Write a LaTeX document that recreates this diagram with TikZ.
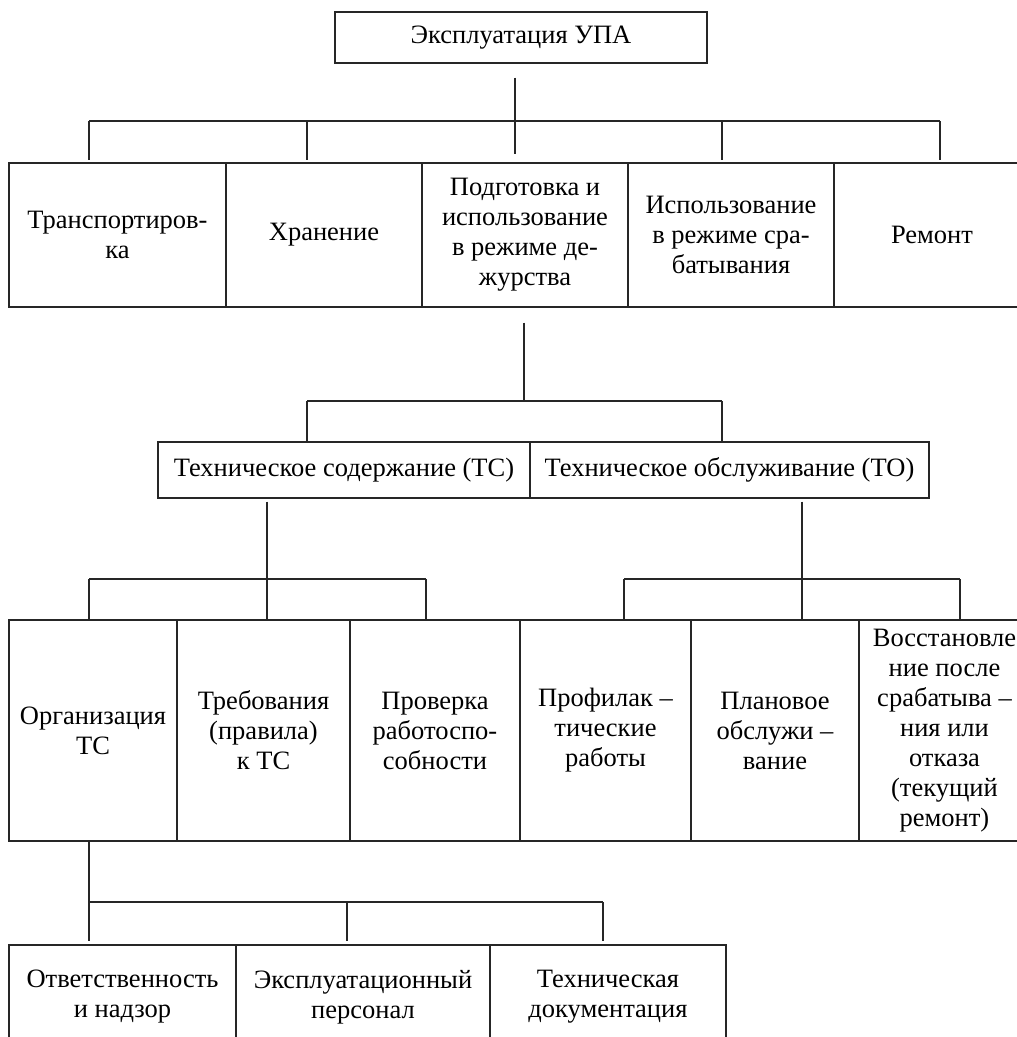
\documentclass[tikz,border=0pt]{standalone}
\usepackage{fontspec}
\setmainfont{Liberation Serif}
\begin{document}
\begin{tikzpicture}[x=1pt,y=-1pt,
  box/.style={draw=black!85, line width=1.2pt, inner sep=0pt, align=center,
    font=\fontsize{26.5}{30}\selectfont},
  conn/.style={draw=black!85, line width=1.2pt}]
\useasboundingbox (0,0) rectangle (1017,1037);
% ---------- root
\node[box, minimum width=372pt, minimum height=51pt] (root) at (521,37.5) {Эксплуатация УПА};
% ---------- row 1
\tikzset{r1/.style={box, minimum height=144pt}}
\node[r1, minimum width=217pt] (a1) at (117.5,235) {Транспортиров-\\ка};
\node[r1, minimum width=196pt] (a2) at (324,235) {Хранение};
\node[r1, minimum width=206pt] (a3) at (525,235) {Подготовка и\\использование\\в режиме де-\\журства};
\node[r1, minimum width=206pt] (a4) at (731,235) {Использование\\в режиме сра-\\батывания};
\node[r1, minimum width=196pt] (a5) at (932,235) {Ремонт};
% ---------- row 2
\tikzset{r2/.style={box, minimum height=56pt}}
\node[r2, minimum width=372pt] (tc) at (344,470) {Техническое содержание (ТС)};
\node[r2, minimum width=399pt] (to) at (729.5,470) {Техническое обслуживание (ТО)};
% ---------- row 3
\tikzset{r3/.style={box, minimum height=221pt}}
\node[r3, minimum width=168pt] (c1) at (93,730.5) {Организация\\ТС};
\node[r3, minimum width=173pt] (c2) at (263.5,730.5) {Требования\\(правила)\\к ТС};
\node[r3, minimum width=170pt] (c3) at (435,730.5) {Проверка\\работоспо-\\собности};
\node[r3, minimum width=171pt] (c4) at (605.5,730.5) {Профилак –\\тические\\работы};
\node[r3, minimum width=168pt] (c5) at (775,730.5) {Плановое\\обслужи –\\вание};
\node[r3, minimum width=171pt] (c6) at (944.5,730.5) {Восстановле\\ние после\\срабатыва –\\ния или\\отказа\\(текущий\\ремонт)};
% ---------- row 4
\tikzset{r4/.style={box, minimum height=104pt}}
\node[r4, minimum width=227pt] (d1) at (122.5,997) {Ответственность\\и надзор};
\node[r4, minimum width=254pt] (d2) at (363,997) {Эксплуатационный\\персонал};
\node[r4, minimum width=236pt] (d3) at (608,997) {Техническая\\документация};

% ---------- connectors: root -> row 1
\coordinate (p1) at (89,121);
\coordinate (p2) at (307,121);
\coordinate (p3) at (515,121);
\coordinate (p4) at (722,121);
\coordinate (p5) at (940,121);
\draw[conn] ([yshift=-14pt]root.south -| p3) -- ([yshift=8pt]a3.north -| p3);
\draw[conn] (p1) -- (p5);
\draw[conn] (p1) -- ([yshift=2pt]a1.north -| p1);
\draw[conn] (p2) -- ([yshift=2pt]a2.north -| p2);
\draw[conn] (p4) -- ([yshift=2pt]a4.north -| p4);
\draw[conn] (p5) -- ([yshift=2pt]a5.north -| p5);
% ---------- row 1 -> row 2
\coordinate (q0) at (524,401);
\coordinate (q1) at (307,401);
\coordinate (q2) at (722,401);
\draw[conn] ([yshift=-15pt]a3.south -| q0) -- (q0);
\draw[conn] (q1) -- (q2);
\draw[conn] (q1) -- (tc.north -| q1);
\draw[conn] (q2) -- (to.north -| q2);
% ---------- TC -> row 3
\coordinate (s0) at (267,579);
\coordinate (s1) at (89,579);
\coordinate (s2) at (426,579);
\draw[conn] ([yshift=-3pt]tc.south -| s0) -- (c2.north -| s0);
\draw[conn] (s1) -- (s2);
\draw[conn] (s1) -- (c1.north -| s1);
\draw[conn] (s2) -- (c3.north -| s2);
% ---------- TO -> row 3
\coordinate (t0) at (802,579);
\coordinate (t1) at (624,579);
\coordinate (t2) at (960,579);
\draw[conn] ([yshift=-3pt]to.south -| t0) -- (c5.north -| t0);
\draw[conn] (t1) -- (t2);
\draw[conn] (t1) -- (c4.north -| t1);
\draw[conn] (t2) -- (c6.north -| t2);
% ---------- Organisation -> row 4
\coordinate (u1) at (89,902);
\coordinate (u2) at (347,902);
\coordinate (u3) at (603,902);
\draw[conn] (c1.south -| u1) -- ([yshift=3pt]d1.north -| u1);
\draw[conn] (u1) -- (u3);
\draw[conn] (u2) -- ([yshift=3pt]d2.north -| u2);
\draw[conn] (u3) -- ([yshift=3pt]d3.north -| u3);
\end{tikzpicture}
\end{document}
